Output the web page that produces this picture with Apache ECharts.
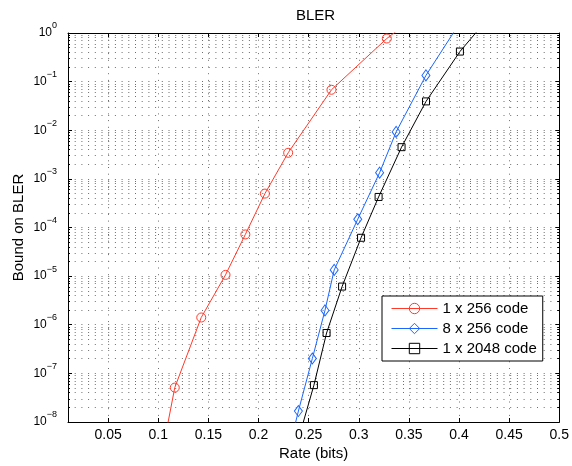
<!DOCTYPE html>
<html>
<head>
<meta charset="utf-8">
<script src="https://cdn.jsdelivr.net/npm/echarts@6/dist/echarts.min.js"></script>
<style>html,body{margin:0;padding:0;background:#fff}#c{width:572px;height:466px}</style>
</head>
<body>
<div id="c"></div>
<script>
const seriesNames = ['1 x 256 code', '8 x 256 code', '1 x 2048 code'];
const rate256 = [0.1005, 0.1165, 0.1429, 0.1671, 0.1869, 0.2064, 0.2296, 0.2728, 0.328, 0.354];
const bler256 = [1e-9, 5.1e-8, 1.41e-6, 1.06e-5, 7.2e-5, 4.98e-4, 3.44e-3, 0.068, 0.77, 2.0];
const rate8x256 = [0.2252, 0.2398, 0.2537, 0.2663, 0.2755, 0.299, 0.3208, 0.3373, 0.367, 0.4005];
const bler8x256 = [1e-9, 1.68e-8, 2.02e-7, 1.97e-6, 1.34e-5, 1.48e-4, 1.34e-3, 9.25e-3, 0.134, 1.58];
const rate2048 = [0.2308, 0.2553, 0.2679, 0.2834, 0.3023, 0.3198, 0.3427, 0.3671, 0.4009, 0.429];
const bler2048 = [1e-9, 5.73e-8, 6.76e-7, 6.1e-6, 6.15e-5, 4.25e-4, 4.49e-3, 0.0392, 0.415, 2.0];

const xMin = 0.01, xMax = 0.5, yMin = 1e-8, yMax = 1;
const FONT = 'Liberation Sans, Arial, Helvetica, sans-serif';
const gridLine = { color: '#6e6e6e', width: 1, type: [1, 5.7] };

function zip(xs, ys) { return xs.map((x, i) => [x, ys[i]]); }
function supLabel(v) {
  const e = Math.round(Math.log10(v));
  return '{b|10}{s|' + (e < 0 ? '\u2212' + (-e) : String(e)) + '}';
}
function mkSeries(name, xs, ys, color, symbol, size) {
  return {
    name: name, type: 'line', data: zip(xs, ys), clip: true,
    symbol: symbol, symbolSize: size, showAllSymbol: true,
    lineStyle: { color: color, width: 1 },
    itemStyle: { color: 'rgba(255,255,255,0)', borderColor: color, borderWidth: 1 },
    emphasis: { disabled: true }, animation: false, z: 3
  };
}

const chart = echarts.init(document.getElementById('c'), null, { renderer: 'canvas' });
chart.setOption({
  animation: false,
  backgroundColor: '#fff',
  textStyle: { fontFamily: FONT },
  title: {
    text: 'BLER', left: 296, top: 8, padding: 0,
    textStyle: { fontSize: 15, fontWeight: 'normal', color: '#000', fontFamily: FONT }
  },
  grid: { left: 68, top: 33, width: 495, height: 391, containLabel: false },
  legend: {
    orient: 'vertical', left: 382, top: 296,
    padding: [5, 6, 5, 9], itemGap: 5,
    itemWidth: 46, itemHeight: 13,
    backgroundColor: '#fff', borderColor: '#000', borderWidth: 1,
    lineStyle: { width: 1 },
    itemStyle: { borderWidth: 1 },
    textStyle: { fontSize: 15, color: '#000', fontFamily: FONT },
    data: seriesNames
  },
  xAxis: [{
    type: 'value', min: xMin, max: xMax, splitNumber: 10,
    name: 'Rate (bits)', nameLocation: 'middle', nameGap: 24, nameMoveOverlap: false,
    nameTextStyle: { fontSize: 15, color: '#000', fontFamily: FONT },
    axisLine: { lineStyle: { color: '#000', width: 1 } },
    axisTick: { inside: true, length: 4, lineStyle: { color: '#000' } },
    axisLabel: { showMinLabel: false, fontSize: 14, color: '#000', margin: 6, fontFamily: FONT },
    splitLine: { show: true, lineStyle: gridLine }
  }, {
    type: 'value', position: 'top', min: xMin, max: xMax, splitNumber: 10,
    axisLine: { lineStyle: { color: '#000', width: 1 } },
    axisTick: { inside: true, length: 4, lineStyle: { color: '#000' } },
    axisLabel: { show: false }, splitLine: { show: false }
  }],
  yAxis: [{
    type: 'log', logBase: 10, min: yMin, max: yMax,
    name: 'Bound on BLER', nameLocation: 'middle', nameGap: 42, nameMoveOverlap: false,
    nameTextStyle: { fontSize: 15, color: '#000', fontFamily: FONT },
    axisLine: { show: true, lineStyle: { color: '#000', width: 1 } },
    axisTick: { inside: true, length: 4, lineStyle: { color: '#000' } },
    minorTick: { show: true, splitNumber: 9, length: 2, lineStyle: { color: '#000' } },
    axisLabel: {
      formatter: supLabel, margin: 11, color: '#000',
      rich: {
        b: { fontSize: 12, lineHeight: 23, verticalAlign: 'middle', fontFamily: FONT, color: '#000' },
        s: { fontSize: 9, lineHeight: 9, verticalAlign: 'top', fontFamily: FONT, color: '#000' }
      }
    },
    splitLine: { show: true, lineStyle: gridLine },
    minorSplitLine: { show: true, lineStyle: gridLine }
  }, {
    type: 'log', logBase: 10, min: yMin, max: yMax, position: 'right',
    axisLine: { show: true, lineStyle: { color: '#000', width: 1 } },
    axisTick: { inside: true, length: 4, lineStyle: { color: '#000' } },
    minorTick: { show: true, splitNumber: 9, length: 2, lineStyle: { color: '#000' } },
    axisLabel: { show: false }, splitLine: { show: false }
  }],
  series: [
    mkSeries(seriesNames[0], rate256, bler256, '#ff3a2a', 'circle', 9),
    mkSeries(seriesNames[1], rate8x256, bler8x256, '#1a66ff', 'diamond', [8, 11]),
    mkSeries(seriesNames[2], rate2048, bler2048, '#000000', 'rect', 7)
  ]
});
</script>
</body>
</html>
